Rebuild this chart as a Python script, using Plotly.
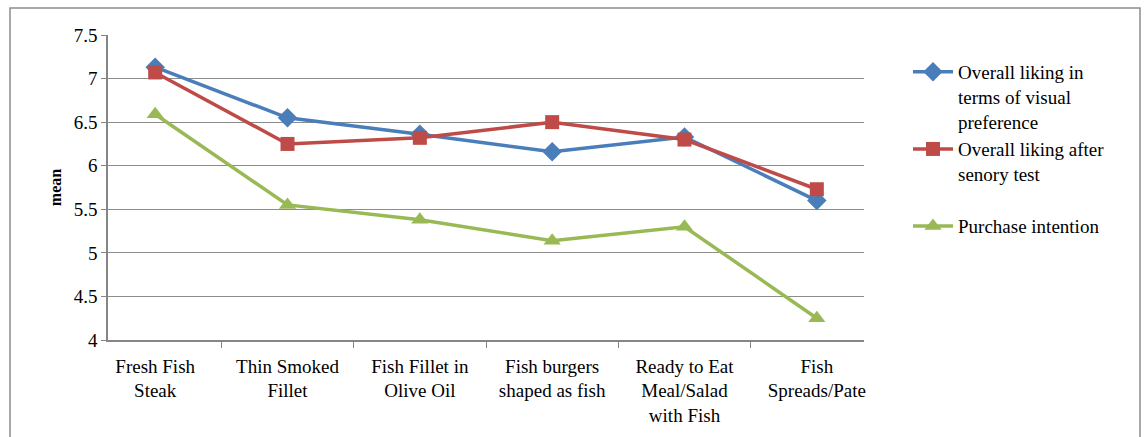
import plotly.graph_objects as go

categories = ["Fresh Fish<br>Steak", "Thin Smoked<br>Fillet", "Fish Fillet in<br>Olive Oil",
              "Fish burgers<br>shaped as fish", "Ready to Eat<br>Meal/Salad<br>with Fish", "Fish<br>Spreads/Pate"]
visual = [7.13, 6.55, 6.36, 6.16, 6.33, 5.60]
sensory = [7.07, 6.25, 6.32, 6.50, 6.30, 5.73]
purchase = [6.59, 5.55, 5.38, 5.14, 5.30, 4.25]
names = ["Overall liking in<br>terms of visual<br>preference", "Overall liking after<br>senory test<br> ", "Purchase intention"]
y_ticks = [4, 4.5, 5, 5.5, 6, 6.5, 7, 7.5]

W, H = 1146, 437
L, R, T, B = 108, 864, 35, 340
FONT = "Times New Roman, Liberation Serif, serif"

fig = go.Figure()
styles = [("#4A7EBB", "diamond", 15), ("#BE4B48", "square", 14), ("#98B954", "triangle-up", 15)]
for vals, name, (c, sym, sz) in zip([visual, sensory, purchase], names, styles):
    fig.add_trace(go.Scatter(x=categories, y=vals, name=name, mode="lines+markers",
                             line=dict(color=c, width=3.5),
                             marker=dict(symbol=sym, size=sz, color=c)))

def px(x):
    return (x - L) / (R - L)

def py(y):
    return (B - y) / (B - T)

fig.add_shape(type="rect", xref="paper", yref="paper", x0=px(10), x1=px(1140), y0=py(460), y1=py(8),
              line=dict(color="#8c8c8c", width=1.5), fillcolor="rgba(0,0,0,0)", layer="below")

fig.update_layout(
    width=W, height=H,
    margin=dict(l=L, r=W - R, t=T, b=H - B, autoexpand=False),
    plot_bgcolor="white", paper_bgcolor="white",
    font=dict(family=FONT, size=19, color="black"),
    showlegend=True,
    legend=dict(x=px(908), y=py(53), xanchor="left", yanchor="top", valign="top",
                font=dict(family=FONT, size=19, color="black"),
                tracegroupgap=0, itemwidth=40, bgcolor="rgba(0,0,0,0)"),
    xaxis=dict(showline=True, linecolor="#868686", linewidth=1.5, ticks="outside",
               tickson="boundaries", ticklen=6, tickcolor="#868686", showgrid=False,
               ticklabelstandoff=8, automargin=False,
               tickfont=dict(family=FONT, size=19)),
    yaxis=dict(range=[4, 7.5], tickvals=y_ticks, ticktext=[f"{v:g}" for v in y_ticks],
               showline=True, linecolor="#868686", linewidth=1.5, ticks="outside", ticklen=5,
               tickcolor="#868686", showgrid=True, gridcolor="#8c8c8c", gridwidth=1.2,
               zeroline=False, tickfont=dict(family=FONT, size=19), automargin=False,
               title=dict(text="<b>mean</b>", font=dict(family=FONT, size=16), standoff=8)),
)
fig.write_html("out.html")
